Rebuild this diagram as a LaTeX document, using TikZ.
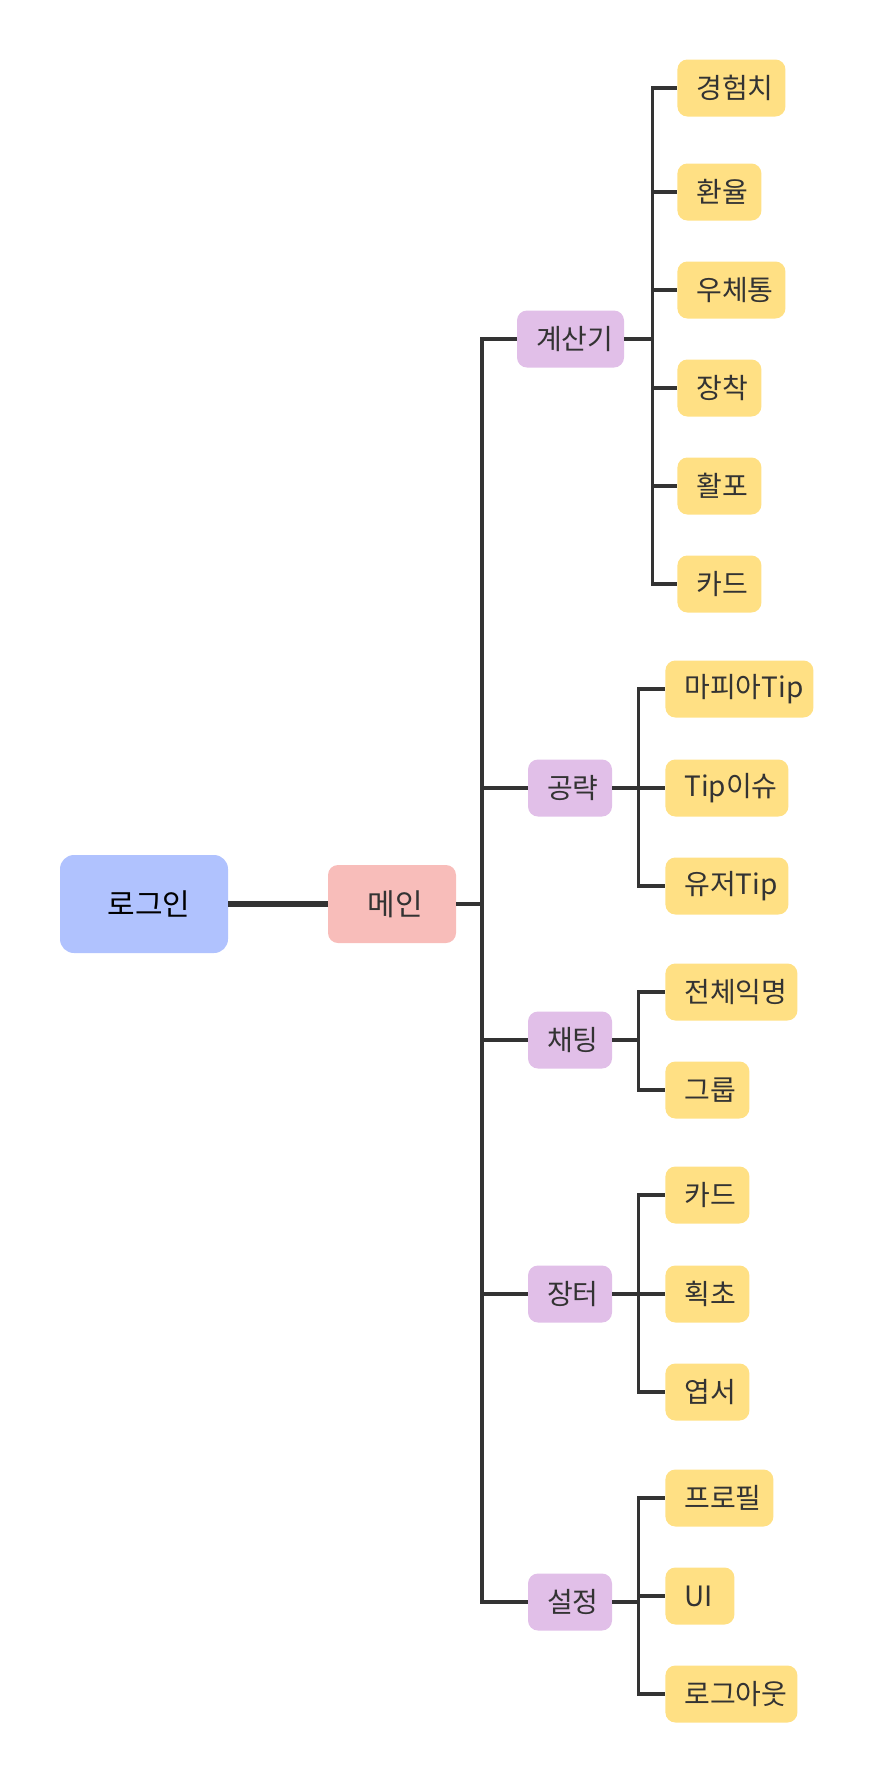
\documentclass[tikz,border=0pt]{standalone}
\usepackage{fontspec}
\newfontfamily\kr{Noto Sans CJK KR}
\usetikzlibrary{positioning}
\definecolor{loginblue}{RGB}{176,194,254}
\definecolor{mainpink}{RGB}{248,189,186}
\definecolor{catpurple}{RGB}{225,191,232}
\definecolor{leafyellow}{RGB}{255,224,132}
\definecolor{linegray}{RGB}{51,51,51}
\definecolor{textgray}{RGB}{51,51,51}

\begin{document}
\begin{tikzpicture}[
		x=0.5pt, y=-0.5pt,
		link/.style={draw=linegray, line width=1.75pt},
		biglink/.style={draw=linegray, line width=3.2pt},
		box/.style={rounded corners=5pt, minimum height=28.5pt, text=textgray, font=\kr\fontsize{14}{16}\selectfont},
		padbox/.style={box, inner xsep=0pt, text width=#1, align=left, execute at begin node={\hspace*{9.5pt}}},
		catbox/.style={padbox=#1, fill=catpurple},
		leaf/.style={padbox=#1, fill=leafyellow, anchor=west},
	]
		\useasboundingbox (0,0) rectangle (874,1784);

		\node (login) at (144,904) [rounded corners=7pt, fill=loginblue, minimum width=84pt, minimum height=49pt, font=\kr\fontsize{15}{17}\selectfont] {\hspace{5pt}로그인};
		\node (main) at (392,904) [box, fill=mainpink, minimum width=64pt, minimum height=39pt, font=\kr\fontsize{15}{17}\selectfont] {\hspace{3pt}메인};

		\node (calc) at (570.5,339) [catbox=53.5pt] {계산기};
		\node (guide) at (570,788) [catbox=42pt] {공략};
		\node (chat) at (570,1040) [catbox=42pt] {채팅};
		\node (market) at (570,1294) [catbox=42pt] {장터};
		\node (setting) at (570,1602) [catbox=42pt] {설정};

		\node (exp) at (677,88) [leaf=54pt] {경험치};
		\node (rate) at (677,192) [leaf=42pt] {환율};
		\node (postbox) at (677,290) [leaf=54pt] {우체통};
		\node (equip) at (677,388) [leaf=42pt] {장착};
		\node (hwalpo) at (677,486) [leaf=42pt] {활포};
		\node (card) at (677,584) [leaf=42pt] {카드};

		\node (mafiatip) at (665,689) [leaf=74pt] {마피아Tip};
		\node (tipissue) at (665,788) [leaf=61.5pt] {Tip이슈};
		\node (usertip) at (665,886) [leaf=61.5pt] {유저Tip};

		\node (anonchat) at (665,992) [leaf=66pt] {전체익명};
		\node (groupchat) at (665,1090) [leaf=42pt] {그룹};

		\node (mcard) at (665,1195) [leaf=42pt] {카드};
		\node (hoekcho) at (665,1294) [leaf=42pt] {획초};
		\node (postcard) at (665,1392) [leaf=42pt] {엽서};

		\node (profile) at (665,1498) [leaf=54pt] {프로필};
		\node (ui) at (665,1596) [leaf=34.5pt] {UI};
		\node (logout) at (665,1694) [leaf=66pt] {로그아웃};

		\coordinate (hub) at (482,904);
		\coordinate (calchub) at ([xshift=14pt]calc.east);
		\coordinate (guidehub) at ([xshift=13pt]guide.east);
		\coordinate (chathub) at ([xshift=13pt]chat.east);
		\coordinate (markethub) at ([xshift=13pt]market.east);
		\coordinate (settinghub) at ([xshift=13pt]setting.east);

		\draw[biglink] (login) -- (main);
		\draw[link] (main) -- (hub);
		\draw[link] (hub) |- (calc.west);
		\draw[link] (hub) |- (guide.west);
		\draw[link] (hub) |- (chat.west);
		\draw[link] (hub) |- (market.west);
		\draw[link] (hub) |- (setting.west);

		\draw[link] (calc.east) -- (calchub) |- (exp.west);
		\draw[link] (calc.east) -- (calchub) |- (rate.west);
		\draw[link] (calc.east) -- (calchub) |- (postbox.west);
		\draw[link] (calc.east) -- (calchub) |- (equip.west);
		\draw[link] (calc.east) -- (calchub) |- (hwalpo.west);
		\draw[link] (calc.east) -- (calchub) |- (card.west);

		\draw[link] (guide.east) -- (guidehub) |- (mafiatip.west);
		\draw[link] (guide.east) -- (guidehub) |- (tipissue.west);
		\draw[link] (guide.east) -- (guidehub) |- (usertip.west);

		\draw[link] (chat.east) -- (chathub) |- (anonchat.west);
		\draw[link] (chat.east) -- (chathub) |- (groupchat.west);

		\draw[link] (market.east) -- (markethub) |- (mcard.west);
		\draw[link] (market.east) -- (markethub) |- (hoekcho.west);
		\draw[link] (market.east) -- (markethub) |- (postcard.west);

		\draw[link] (setting.east) -- (settinghub) |- (profile.west);
		\draw[link] (setting.east) -- (settinghub) |- (ui.west);
		\draw[link] (setting.east) -- (settinghub) |- (logout.west);
	\end{tikzpicture}
\end{document}
